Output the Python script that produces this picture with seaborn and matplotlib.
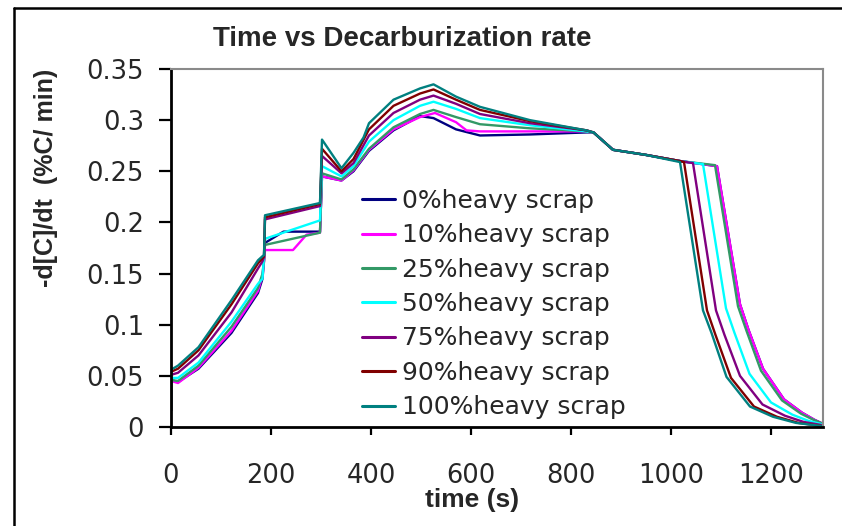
import matplotlib
matplotlib.use("Agg")
import matplotlib.pyplot as plt
from matplotlib.lines import Line2D
import seaborn as sns

# ---------------- data ----------------
labels = ["0%heavy scrap", "10%heavy scrap", "25%heavy scrap", "50%heavy scrap",
          "75%heavy scrap", "90%heavy scrap", "100%heavy scrap"]
colors = ["#000080", "#FF00FF", "#339966", "#00FFFF", "#800080", "#800000", "#008080"]

time_0 = [0, 0, 14, 55, 121, 174, 183, 186, 188, 225, 298, 302, 341, 365, 396, 445, 498, 525, 570, 618, 718, 831, 845, 884, 950, 1018, 1092, 1138, 1155, 1184, 1226, 1262, 1287, 1300]
rate_0 = [0.016, 0.046, 0.044, 0.057, 0.092, 0.131, 0.145, 0.162, 0.180, 0.191, 0.191, 0.245, 0.241, 0.250, 0.270, 0.290, 0.304, 0.302, 0.291, 0.285, 0.286, 0.288, 0.288, 0.271, 0.266, 0.260, 0.255, 0.120, 0.095, 0.057, 0.027, 0.014, 0.007, 0.004]

time_10 = [0, 0, 14, 55, 121, 174, 183, 186, 188, 244, 271, 298, 302, 341, 365, 396, 445, 498, 528, 570, 591, 618, 718, 831, 845, 884, 950, 1018, 1092, 1138, 1155, 1184, 1226, 1262, 1287, 1300]
rate_10 = [0.016, 0.045, 0.043, 0.058, 0.094, 0.133, 0.148, 0.162, 0.173, 0.173, 0.188, 0.190, 0.245, 0.241, 0.251, 0.271, 0.291, 0.303, 0.307, 0.298, 0.290, 0.289, 0.289, 0.289, 0.288, 0.271, 0.266, 0.260, 0.255, 0.120, 0.095, 0.057, 0.027, 0.014, 0.007, 0.004]

time_25 = [0, 0, 14, 55, 121, 174, 183, 186, 188, 298, 302, 341, 365, 396, 445, 498, 525, 570, 618, 718, 831, 845, 884, 950, 1018, 1088, 1134, 1151, 1180, 1222, 1260, 1285, 1300]
rate_25 = [0.016, 0.046, 0.045, 0.060, 0.098, 0.136, 0.150, 0.163, 0.178, 0.190, 0.248, 0.242, 0.252, 0.272, 0.293, 0.306, 0.310, 0.303, 0.296, 0.292, 0.289, 0.288, 0.271, 0.266, 0.260, 0.256, 0.118, 0.094, 0.055, 0.026, 0.013, 0.007, 0.004]

time_50 = [0, 0, 14, 55, 121, 174, 183, 186, 188, 298, 302, 341, 365, 396, 445, 498, 525, 570, 618, 718, 831, 845, 884, 950, 1018, 1064, 1110, 1127, 1157, 1200, 1243, 1275, 1300]
rate_50 = [0.016, 0.048, 0.048, 0.063, 0.103, 0.140, 0.145, 0.168, 0.184, 0.202, 0.255, 0.245, 0.255, 0.279, 0.300, 0.314, 0.318, 0.311, 0.302, 0.295, 0.289, 0.288, 0.271, 0.266, 0.260, 0.257, 0.116, 0.092, 0.052, 0.024, 0.012, 0.006, 0.003]

time_75 = [0, 0, 14, 55, 121, 174, 183, 186, 188, 298, 302, 341, 365, 396, 445, 498, 525, 570, 618, 718, 831, 845, 884, 950, 1018, 1044, 1090, 1107, 1138, 1183, 1228, 1265, 1300]
rate_75 = [0.016, 0.051, 0.053, 0.070, 0.112, 0.155, 0.162, 0.166, 0.203, 0.216, 0.265, 0.248, 0.258, 0.285, 0.307, 0.320, 0.324, 0.316, 0.306, 0.297, 0.290, 0.288, 0.271, 0.266, 0.260, 0.258, 0.114, 0.090, 0.050, 0.022, 0.011, 0.005, 0.002]

time_90 = [0, 0, 14, 55, 121, 174, 183, 186, 188, 298, 302, 341, 365, 396, 445, 498, 525, 570, 618, 718, 831, 845, 884, 950, 1018, 1026, 1072, 1089, 1120, 1166, 1212, 1255, 1300]
rate_90 = [0.016, 0.054, 0.057, 0.075, 0.120, 0.160, 0.165, 0.167, 0.205, 0.218, 0.272, 0.250, 0.262, 0.291, 0.314, 0.326, 0.330, 0.320, 0.310, 0.299, 0.290, 0.288, 0.271, 0.266, 0.260, 0.259, 0.114, 0.090, 0.048, 0.020, 0.010, 0.004, 0.001]

time_100 = [0, 0, 14, 55, 121, 174, 183, 186, 188, 298, 302, 341, 365, 385, 396, 445, 498, 525, 570, 618, 718, 831, 845, 884, 950, 1018, 1064, 1081, 1111, 1158, 1204, 1250, 1300]
rate_100 = [0.016, 0.056, 0.060, 0.078, 0.124, 0.163, 0.167, 0.168, 0.207, 0.219, 0.281, 0.253, 0.268, 0.283, 0.297, 0.320, 0.331, 0.335, 0.323, 0.313, 0.300, 0.290, 0.288, 0.271, 0.266, 0.259, 0.114, 0.092, 0.049, 0.020, 0.010, 0.004, 0.001]

series_times = [time_0, time_10, time_25, time_50, time_75, time_90, time_100]
series_rates = [rate_0, rate_10, rate_25, rate_50, rate_75, rate_90, rate_100]

x_ticks = [0, 200, 400, 600, 800, 1000, 1200]
y_ticks = [0, 0.05, 0.1, 0.15, 0.2, 0.25, 0.3, 0.35]
y_tick_labels = ["0", "0.05", "0.1", "0.15", "0.2", "0.25", "0.3", "0.35"]

# ---------------- figure ----------------
sns.set_style("white")
plt.rcParams["font.family"] = ["DejaVu Sans"]

W, H = 842, 526
fig = plt.figure(figsize=(W / 100, H / 100), dpi=100)
fig.patch.set_facecolor("white")

def fx(px):
    return px / W

def fy(py):
    return 1 - py / H

ax = fig.add_axes([fx(171), fy(427), fx(823) - fx(171), fy(69) - fy(427)])

for t, r, lab, col in zip(series_times, series_rates, labels, colors):
    sns.lineplot(x=t, y=r, ax=ax, color=col, lw=1.7, label=lab,
                 sort=False, estimator=None)

ax.set_xlim(0, 1304)
ax.set_ylim(0, 0.35)
ax.set_xticks(x_ticks)
ax.set_xticklabels([str(v) for v in x_ticks])
ax.set_yticks(y_ticks)
ax.set_yticklabels(y_tick_labels)
ax.set_xlabel("")
ax.set_ylabel("")

for s in ["left", "bottom"]:
    ax.spines[s].set_color("black")
    ax.spines[s].set_linewidth(2.0)
for s in ["top", "right"]:
    ax.spines[s].set_color("#8a8a8a")
    ax.spines[s].set_linewidth(1.5)

ax.tick_params(axis="x", direction="out", length=6, width=1.6, color="black",
               pad=20, labelsize=18.5)
ax.tick_params(axis="y", direction="out", length=8.5, width=1.6, color="black",
               pad=11, labelsize=18.5)
ax.tick_params(top=False, right=False, bottom=True, left=True)

leg = ax.legend(loc="upper left", bbox_to_anchor=(fx(362), fy(189)),
                bbox_transform=fig.transFigure, frameon=False,
                fontsize=18, handlelength=1.3, handletextpad=0.3,
                labelspacing=0.415, borderpad=0, borderaxespad=0)
for h in leg.get_lines():
    h.set_linewidth(2.2)

# title and axis labels
fig.text(fx(402), fy(39), "Time vs Decarburization rate", ha="center", va="center",
         fontsize=20, fontweight="bold", family=["Liberation Sans", "DejaVu Sans"])
fig.text(fx(472), fy(500), "time (s)", ha="center", va="center",
         fontsize=19, fontweight="bold", family=["Liberation Sans", "DejaVu Sans"])
fig.text(fx(46), fy(178), "-d[C]/dt  (%C/ min)", ha="center", va="center", rotation=90,
         fontsize=18, fontweight="bold", family=["Liberation Sans", "DejaVu Sans"])

# outer chart frame (cropped at right and bottom)
fig.add_artist(Line2D([fx(14), fx(845)], [fy(8), fy(8)], transform=fig.transFigure,
                      color="black", lw=1.8))
fig.add_artist(Line2D([fx(14), fx(14)], [fy(8), fy(530)], transform=fig.transFigure,
                      color="black", lw=1.8))

fig.savefig("out.png", dpi=100, facecolor="white")
